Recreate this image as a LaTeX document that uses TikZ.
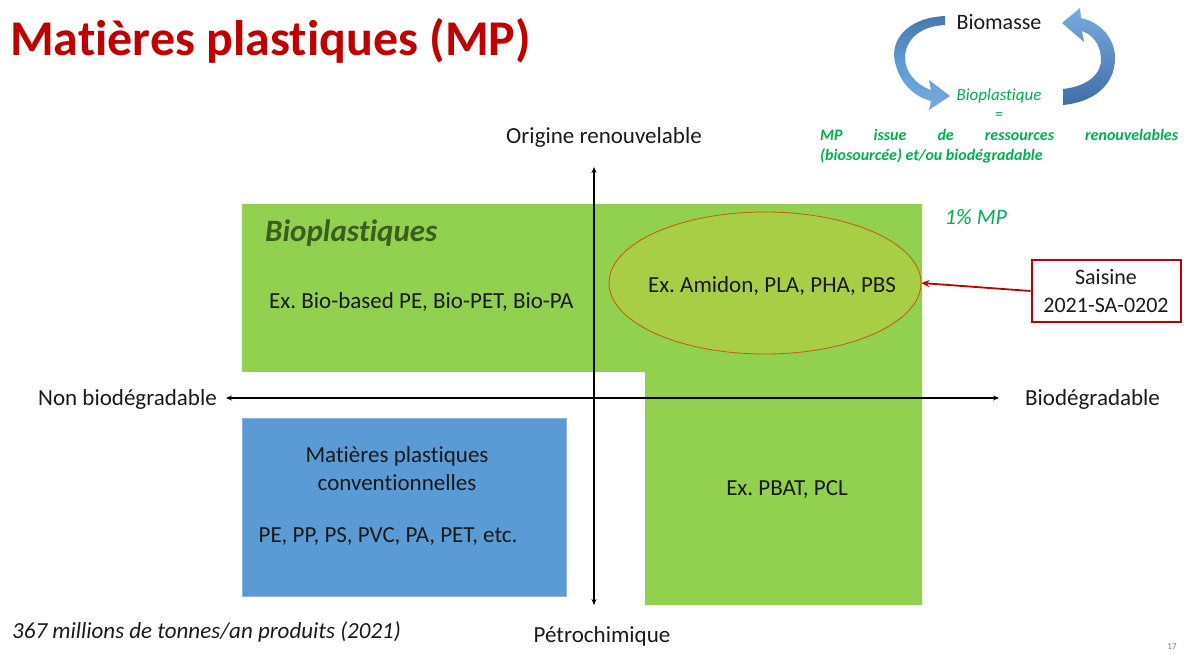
\documentclass[tikz,border=0pt]{standalone}
\usepackage{fontspec}
\setmainfont[Ligatures={NoCommon,NoRare},RawFeature={-liga;-dlig}]{Carlito}
\usetikzlibrary{arrows.meta,shapes.geometric}
\definecolor{titlered}{HTML}{C00000}
\definecolor{biogreen}{HTML}{92D050}
\definecolor{ellgreen}{HTML}{A8CE45}
\definecolor{ellborder}{HTML}{C55A11}
\definecolor{convblue}{HTML}{5B9BD5}
\definecolor{convborder}{HTML}{8DB4E2}
\definecolor{textgreen}{HTML}{00B050}
\definecolor{darkgreen}{HTML}{3B5E1F}
\definecolor{txt}{HTML}{1A1A1A}
\definecolor{arrowlight}{HTML}{7AAADD}
\definecolor{arrowdark}{HTML}{3F6FA8}
\tikzset{
  lbl/.style={inner sep=0pt, text=txt, font=\fontsize{23}{27}\selectfont},
  axis/.style={line width=1.2pt, black, {Stealth[length=6pt,width=5pt]}-{Stealth[length=6pt,width=5pt]}},
  greentext/.style={inner sep=0pt, text=textgreen},
}
\frenchspacing
\begin{document}
\begin{tikzpicture}[x=1pt,y=-1pt]
\useasboundingbox (0,0) rectangle (1187,654);
\fill[white] (0,0) rectangle (1187,654);

% title
\node[inner sep=0pt, anchor=base west, text=titlered, font=\fontsize{50}{56}\selectfont\bfseries] (title) at (10,55) {Matières plastiques (MP)};

% circular arrows
\shade[top color=arrowdark!85!arrowlight, bottom color=arrowlight, middle color=convblue]
  (945,16) .. controls (905,18) and (890,42) .. (895,62)
  .. controls (900,84) and (915,97) .. (931,101)
  -- (929,110) -- (950,96) -- (929,80) -- (931,90)
  .. controls (918,86) and (905,73) .. (905,58)
  .. controls (905,40) and (920,26) .. (945,25) -- cycle;
\shade[top color=arrowlight, bottom color=arrowdark]
  (1063,89) .. controls (1090,86) and (1102,72) .. (1101,58)
  .. controls (1100,44) and (1093,35) .. (1082,31)
  -- (1084,42) -- (1062,23) -- (1080,8) -- (1081,18)
  .. controls (1100,22) and (1115,38) .. (1115,58)
  .. controls (1115,84) and (1095,102) .. (1063,105) -- cycle;
\node[lbl, font=\fontsize{22}{26}\selectfont] (biomasse) at (999,22) {Biomasse};
\node[greentext, font=\fontsize{17}{20}\selectfont\itshape] (bioplq) at (999,96) {Bioplastique};
\node[greentext, font=\fontsize{16}{18}\selectfont] (eq) at (999,116) {=};
\node[greentext, anchor=north west, align=left, font=\fontsize{16}{20}\selectfont\bfseries\itshape] (mpdef) at (820,129)
  {\makebox[358pt][s]{MP issue de ressources renouvelables}\\(biosourcée) et/ou biodégradable};

% green L-shaped area
\fill[biogreen] (242,204) -- (922,204) -- (922,605) -- (645,605) -- (645,372) -- (242,372) -- cycle;
% blue box
\node[draw=convborder, fill=convblue, line width=0.8pt, minimum width=324pt, minimum height=178pt, inner sep=0pt] (conv) at (404,507) {};
% ellipse
\node[ellipse, draw=ellborder, fill=ellgreen, line width=0.8pt, minimum width=312pt, minimum height=142pt, inner sep=0pt] (ell) at (765,283) {};

% axes
\coordinate (vtop) at (594,167);
\coordinate (vbot) at (594,605);
\coordinate (hleft) at (226,398);
\coordinate (hright) at (999,398);
\draw[axis] (vbot) -- (vtop);
\draw[axis] (hleft) -- (hright);

% axis labels
\node[lbl] (orig) at (604,137) {Origine renouvelable};
\node[lbl, anchor=east] (nonbio) at (217,399) {Non biodégradable};
\node[lbl, anchor=west] (biodeg) at (1025,399) {Biodégradable};
\node[lbl] (petro) at (602,636) {Pétrochimique};

% texts in areas
\node[inner sep=0pt, anchor=west, text=darkgreen, font=\fontsize{31}{36}\selectfont\bfseries\itshape] (bioplastiques) at (265,233) {Bioplastiques};
\node[lbl, anchor=west] (exbio) at (269,302) {Ex. Bio-based PE, Bio-PET, Bio-PA};
\node[lbl] (examidon) at (772,286) {Ex. Amidon, PLA, PHA, PBS};
\node[inner sep=0pt, text=textgreen, font=\fontsize{22}{26}\selectfont\itshape] (onepct) at (976,217) {1\% MP};
\node[lbl] (pbat) at (787,490) {Ex. PBAT, PCL};
\node[lbl, align=center, font=\fontsize{23}{28}\selectfont] (convt) at (397,469) {Matières plastiques\\conventionnelles};
\node[lbl] (pe) at (388,537) {PE, PP, PS, PVC, PA, PET, etc.};

% saisine
\node[draw=titlered, line width=2pt, fill=white, minimum width=149pt, minimum height=62pt, inner sep=0pt, align=center, text=txt, font=\fontsize{22}{28}\selectfont] (saisine) at (1106,291) {Saisine\\2021-SA-0202};
\draw[titlered, line width=1.8pt, -{Stealth[length=8pt,width=7pt]}] (saisine.west) -- (ell.east);

% bottom notes
\node[inner sep=0pt, anchor=west, text=txt, font=\fontsize{23}{26}\selectfont\itshape] (prod) at (12,632) {367 millions de tonnes/an produits (2021)};
\node[inner sep=0pt, anchor=north, text=gray, font=\fontsize{9}{11}\selectfont] (pagenum) at (1172,643) {17};
\end{tikzpicture}
\end{document}
